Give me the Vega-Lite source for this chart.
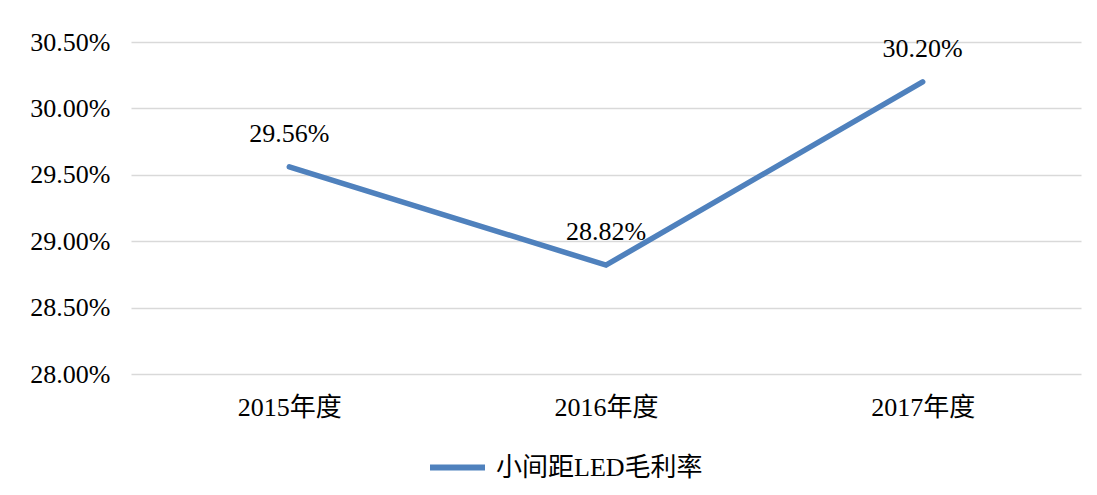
{
  "$schema": "https://vega.github.io/schema/vega-lite/v6.json",
  "autosize": {"type": "none"},
  "width": 950,
  "height": 332,
  "padding": {"left": 131, "top": 42, "right": 16, "bottom": 121},
  "background": "white",
  "config": {
    "font": "Times New Roman, Liberation Serif, serif",
    "view": {"stroke": null}
  },
  "data": {
    "values": [
      {"year": "2015年度", "rate": 0.2956, "series": "小间距LED毛利率"},
      {"year": "2016年度", "rate": 0.2882, "series": "小间距LED毛利率"},
      {"year": "2017年度", "rate": 0.302, "series": "小间距LED毛利率"}
    ]
  },
  "encoding": {
    "x": {
      "field": "year",
      "type": "nominal",
      "sort": null,
      "scale": {"paddingInner": 0, "paddingOuter": 0},
      "axis": {
        "title": null,
        "labelAngle": 0,
        "ticks": false,
        "domain": false,
        "labelPadding": 20,
        "labelFontSize": 26,
        "labelColor": "#000000",
        "labelFont": "Times New Roman, Liberation Serif, Noto Sans CJK SC, serif"
      }
    },
    "y": {
      "field": "rate",
      "type": "quantitative",
      "scale": {"domain": [0.28, 0.305], "nice": false, "zero": false},
      "axis": {
        "title": null,
        "format": ".2%",
        "values": [0.28, 0.285, 0.29, 0.295, 0.3, 0.305],
        "ticks": false,
        "domain": false,
        "labelPadding": 21,
        "labelFontSize": 26,
        "labelColor": "#000000",
        "labelFont": "Times New Roman, Liberation Serif, serif",
        "gridColor": "#d9d9d9",
        "gridWidth": 1.5
      }
    }
  },
  "layer": [
    {
      "mark": {"type": "line", "strokeWidth": 5.5, "strokeCap": "round", "strokeJoin": "miter"},
      "encoding": {
        "color": {
          "field": "series",
          "type": "nominal",
          "scale": {"range": ["#4f81bd"]},
          "legend": {
            "title": null,
            "orient": "none",
            "legendX": 296,
            "legendY": 395,
            "padding": 0,
            "symbolType": "stroke",
            "symbolSize": 3025,
            "symbolStrokeWidth": 6,
            "labelFontSize": 26,
            "labelFont": "Times New Roman, Liberation Serif, Noto Sans CJK SC, serif",
            "labelColor": "#000000",
            "labelOffset": 8,
            "labelLimit": 400
          }
        }
      }
    },
    {
      "mark": {"type": "text", "dy": -25, "baseline": "alphabetic", "fontSize": 26, "font": "Times New Roman, Liberation Serif, serif", "color": "#000000"},
      "encoding": {
        "text": {"field": "rate", "type": "quantitative", "format": ".2%"}
      }
    }
  ]
}
